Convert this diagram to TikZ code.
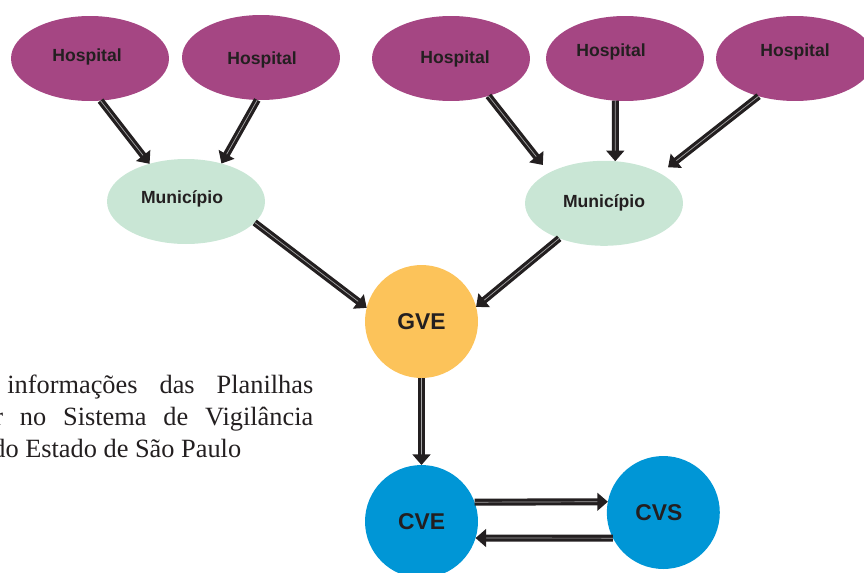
\documentclass[tikz,border=0pt]{standalone}
\usepackage{fontspec}
\setmainfont{Liberation Serif}
\setsansfont{Liberation Sans}
\usetikzlibrary{arrows.meta,shapes.geometric,positioning}
\definecolor{roxo}{HTML}{A54683}
\definecolor{verde}{HTML}{C9E6D5}
\definecolor{laranja}{HTML}{FCC35A}
\definecolor{azul}{HTML}{0096D6}
\definecolor{tinta}{HTML}{231F20}

\begin{document}
\begin{tikzpicture}[x=0.02cm, y=-0.02cm]
\tikzstyle{hospital}=[ellipse, fill=roxo, minimum width=3.16cm, minimum height=1.7cm, outer sep=0pt]
\tikzstyle{municipio}=[ellipse, fill=verde, minimum width=3.16cm, minimum height=1.7cm, outer sep=0pt]
\tikzstyle{orgao}=[circle, minimum size=2.26cm, outer sep=0pt, text=tinta, font=\sffamily\bfseries\fontsize{13}{15}\selectfont]
\tikzstyle{rotulo}=[text=tinta, font=\sffamily\bfseries\fontsize{10}{12}\selectfont, inner sep=0pt]
\tikzstyle{flecha}=[draw=tinta, double=gray!70, line width=1.8pt, double distance=0.4pt, -{Triangle[length=6pt, width=10pt]}]
\tikzstyle{texto}=[text=tinta, font=\fontsize{15}{18}\selectfont, inner sep=0pt, anchor=base west]

\path[use as bounding box, clip] (0,0) rectangle (864,572);

%%%%%%%%%%%%%%%%%%%%%%%%%%%%%%
%%%%%
%%%%% FLUXO

%%%%% HOSPITAIS
\coordinate (h_1) at (90,58.5);
\coordinate (h_2) at (261,57.5);
\coordinate (h_3) at (451,58.5);
\coordinate (h_4) at (625,58.5);
\coordinate (h_5) at (795,58.5);

%%%%% MUNICIPIOS
\coordinate (m_1) at (186,201.5);
\coordinate (m_2) at (604,203.3);

%%%%% ORGAOS
\coordinate (gve) at (421.5,321.5);
\coordinate (cve) at (421.5,521.5);
\coordinate (cvs) at (663.3,512.5);

%%%%% CAMADA HOSPITAIS
\node[hospital] (h_1) at (h_1) {};
\node[hospital] (h_2) at (h_2) {};
\node[hospital] (h_3) at (h_3) {};
\node[hospital] (h_4) at (h_4) {};
\node[hospital] (h_5) at (h_5) {};

\node[rotulo] (t_1) at (87,57) {Hospital};
\node[rotulo] (t_2) at (262,60) {Hospital};
\node[rotulo] (t_3) at (455,59) {Hospital};
\node[rotulo] (t_4) at (611,52) {Hospital};
\node[rotulo] (t_5) at (795,52) {Hospital};

%%%%% CAMADA MUNICIPIOS
\node[municipio] (m_1) at (m_1) {};
\node[municipio] (m_2) at (m_2) {};

\node[rotulo] (u_1) at (182,199) {Município};
\node[rotulo] (u_2) at (604,202.7) {Município};

%%%%% CAMADA ORGAOS
\node[orgao, fill=laranja] (gve) at (gve) {GVE};
\node[orgao, fill=azul] (cve) at (cve) {CVE};
\node[orgao, fill=azul, inner sep=0pt] (cvs) at (cvs) {\hspace*{-0.18cm}CVS};

%%%%%%%%%%%%%%%
%%%%% CONEXOES
\draw[flecha] (h_1.-76) -- (m_1.134);
\draw[flecha] (h_2.-95) -- (m_1.47);
\draw[flecha, shorten >=0.2cm] (h_3.-45) -- (m_2.151);
\draw[flecha] (h_4.-103) -- (m_2.75.5);
\draw[flecha, shorten >=0.2cm] (h_5.-134) -- (m_2.28);

\draw[flecha] (m_1.-17) -- (gve.166);
\draw[flecha] (m_2.-142) -- (gve.15);

\draw[flecha] (gve.south) -- (cve.north);
\draw[flecha] (cve.20.5) -- (cvs.169);
\draw[flecha] (cvs.-153) -- (cve.-17);

%%%%%%%%%%%%%%%
%%%%% LEGENDA
\node[texto] (l_1) at (7,393) {\makebox[6.12cm][s]{informações das Planilhas}};
\node[texto] (l_2) at (-6,425) {\makebox[6.38cm][s]{r no Sistema de Vigilância}};
\node[texto] (l_3) at (-8,457) {do Estado de São Paulo};

\end{tikzpicture}
\end{document}
